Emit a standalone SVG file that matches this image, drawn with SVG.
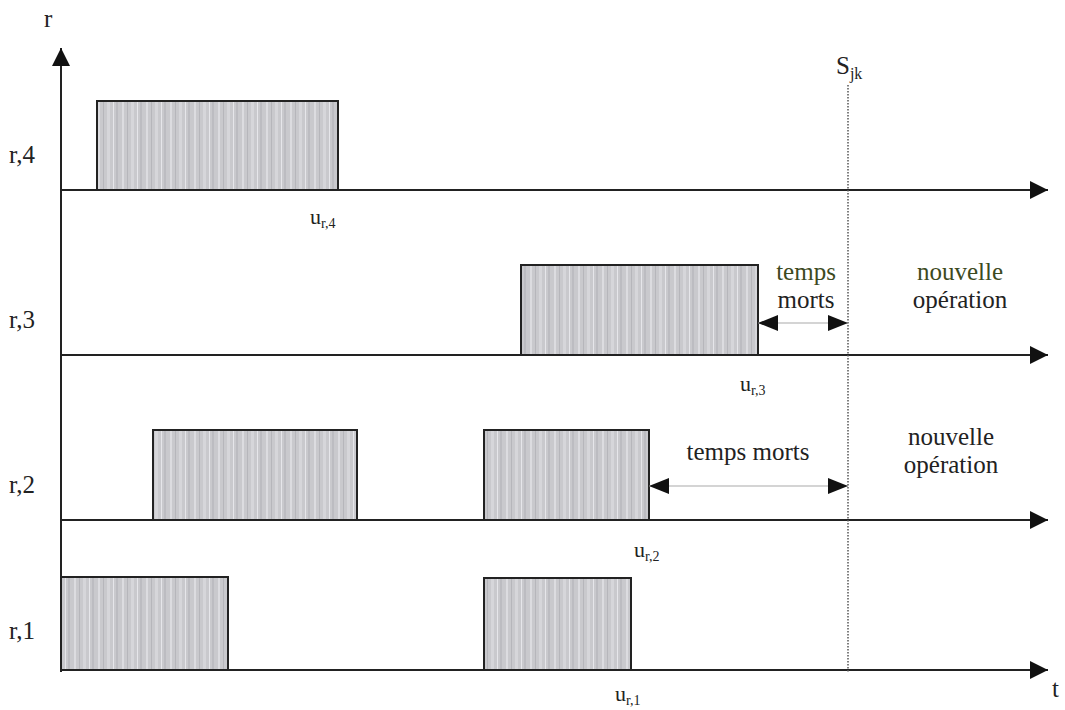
<svg xmlns="http://www.w3.org/2000/svg" width="1065" height="710" viewBox="0 0 1065 710">
<style>
text{font-family:"Liberation Serif","Times New Roman",serif;fill:#222;}
.lbl{font-size:25px;}
.u{font-size:22px;}
.sub{font-size:14px;}
.ax{stroke:#222;stroke-width:2;fill:none;}
.box{fill:url(#stripes);stroke:#222;stroke-width:2;}
.dm{stroke:#aaa;stroke-width:1.2;fill:none;}
.grn{fill:#3d4a1e;}
</style>
<defs>
<pattern id="stripes" patternUnits="userSpaceOnUse" width="24" height="10">
<rect width="24" height="10" fill="#c9c9cd"/>
<rect x="2" width="2" height="10" fill="#dcdce0"/>
<rect x="7" width="1" height="10" fill="#b6b6bb"/>
<rect x="11" width="3" height="10" fill="#d6d6da"/>
<rect x="17" width="1" height="10" fill="#e6e6ea"/>
<rect x="20" width="2" height="10" fill="#bcbcc1"/>
</pattern>
<marker id="big" viewBox="0 0 10 10" refX="10" refY="5" markerWidth="18" markerHeight="18" markerUnits="userSpaceOnUse" orient="auto"><path d="M0,0L10,5L0,10z" fill="#111"/></marker>
<marker id="dbl" viewBox="0 0 10 10" refX="10" refY="5" markerWidth="20" markerHeight="20" markerUnits="userSpaceOnUse" orient="auto-start-reverse"><path d="M0,1L10,5L0,9z" fill="#111"/></marker>
</defs>

<g id="tasks">
<rect id="r4a" class="box" x="97" y="101" width="241" height="89"/>
<rect id="r3a" class="box" x="521" y="265" width="237" height="90"/>
<rect id="r2a" class="box" x="153" y="430" width="204" height="90"/>
<rect id="r2b" class="box" x="484" y="430" width="165" height="90"/>
<rect id="r1a" class="box" x="61" y="577" width="167" height="93"/>
<rect id="r1b" class="box" x="484" y="578" width="147" height="92"/>
</g>

<g id="connectors">
<line class="ax" x1="61" y1="672" x2="61" y2="48" marker-end="url(#big)"/>
<line class="ax" x1="61" y1="190" x2="1048" y2="190" marker-end="url(#big)"/>
<line class="ax" x1="61" y1="355" x2="1048" y2="355" marker-end="url(#big)"/>
<line class="ax" x1="61" y1="520" x2="1048" y2="520" marker-end="url(#big)"/>
<line class="ax" x1="61" y1="670" x2="1048" y2="670" marker-end="url(#big)"/>
<line x1="848" y1="85" x2="848" y2="672" stroke="#555" stroke-width="1.5" stroke-dasharray="1.5,1.5"/>
<line class="dm" x1="758" y1="323" x2="848" y2="323" marker-start="url(#dbl)" marker-end="url(#dbl)"/>
<line class="dm" x1="649" y1="486" x2="848" y2="486" marker-start="url(#dbl)" marker-end="url(#dbl)"/>
</g>

<g id="labels" font-family="Liberation Serif, Times New Roman, serif">
<text class="lbl" x="44" y="27" font-size="27">r</text>
<text class="lbl" x="1052" y="697">t</text>
<text class="lbl" x="9" y="163">r,4</text>
<text class="lbl" x="9" y="328">r,3</text>
<text class="lbl" x="9" y="493">r,2</text>
<text class="lbl" x="9" y="639">r,1</text>
<text x="836" y="74" font-size="25">S<tspan font-size="16" dy="5">jk</tspan></text>
<text class="u" x="310" y="224">u<tspan class="sub" dy="4">r,4</tspan></text>
<text class="u" x="740" y="391">u<tspan class="sub" dy="4">r,3</tspan></text>
<text class="u" x="634" y="557">u<tspan class="sub" dy="4">r,2</tspan></text>
<text class="u" x="615" y="701">u<tspan class="sub" dy="4">r,1</tspan></text>
<text class="lbl grn" x="806" y="280" text-anchor="middle">temps</text>
<text class="lbl" x="806" y="308" text-anchor="middle">morts</text>
<text class="lbl grn" x="960" y="280" text-anchor="middle">nouvelle</text>
<text class="lbl" x="960" y="308" text-anchor="middle">opération</text>
<text class="lbl" x="748" y="460" text-anchor="middle">temps morts</text>
<text class="lbl" x="951" y="445" text-anchor="middle">nouvelle</text>
<text class="lbl" x="951" y="473" text-anchor="middle">opération</text>
</g>
</svg>
